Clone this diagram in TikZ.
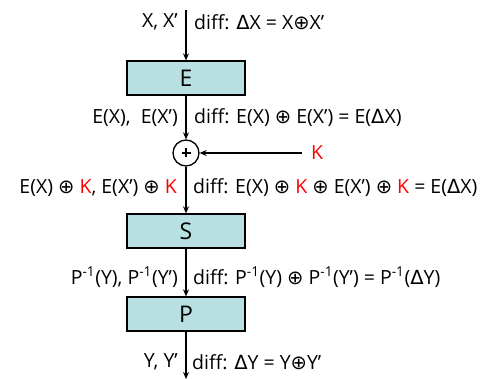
\documentclass[tikz,border=0pt]{standalone}
\usepackage{fontspec}
\setmainfont{Open Sans}
\newfontfamily\symf{DejaVu Sans}
\usetikzlibrary{arrows.meta}
\definecolor{boxfill}{RGB}{184,224,226}
\newcommand{\xo}{{\symf ⊕}}
\newcommand{\dl}{{\symf Δ}}
\newcommand{\rk}{\textcolor{red}{K}}
\newcommand{\pinv}{P\textsuperscript{-1}}
\begin{document}
\begin{tikzpicture}[x=1pt,y=-1pt,
  box/.style={draw=black,line width=1.3pt,fill=boxfill,minimum width=118pt,minimum height=34pt,inner sep=0pt,font=\fontsize{23}{25}\selectfont},
  flow/.style={line width=1.4pt,-{Stealth[length=7pt,width=6pt]}},
  lab/.style={font=\fontsize{19.5}{21}\selectfont,inner sep=0pt},
  xorc/.style={draw=black,line width=1.3pt,circle,minimum size=26pt,inner sep=0pt},
  plusbar/.style={line width=2.4pt}]
\useasboundingbox (0,0) rectangle (491,379);
\coordinate (top) at (186,10);
\node[box] (E) at (186,78) {E};
\node[xorc] (X) at (186,153) {};
\draw[plusbar] ([xshift=-4.5pt]X.center) -- ([xshift=4.5pt]X.center);
\draw[plusbar] ([yshift=-4.5pt]X.center) -- ([yshift=4.5pt]X.center);
\coordinate (kin) at (302,153);
\node[lab,anchor=west,text=red] (K) at (311,153) {K};
\node[box] (S) at (186,231) {S};
\node[box] (P) at (186,314) {P};
\coordinate (bot) at (186,379);
\draw[flow] (top) -- (E.north);
\draw[flow] (E.south) -- (X.north);
\draw[flow] (kin) -- (X.east);
\draw[flow] (X.south) -- (S.north);
\draw[flow] (S.south) -- (P.north);
\draw[flow] (P.south) -- (bot);
% labels
\node[lab,anchor=east] (l1) at (178,22) {X, X'};
\node[lab,anchor=west] (r1) at (194,22) {diff: \dl X = X\xo X'};
\node[lab,anchor=east] (l2) at (178,118) {E(X),\ \ E(X')};
\node[lab,anchor=west] (r2) at (194,118) {diff: E(X) \xo\ E(X') = E(\dl X)};
\node[lab,anchor=east] (l3) at (177,188) {E(X) \xo\ \rk, E(X') \xo\ \rk};
\node[lab,anchor=west] (r3) at (193,188) {diff: E(X) \xo\ \rk\ \xo\ E(X') \xo\ \rk\ = E(\dl X)};
\node[lab,anchor=east] (l4) at (178,277) {\pinv(Y), \pinv(Y')};
\node[lab,anchor=west] (r4) at (193,277) {diff: \pinv(Y) \xo\ \pinv(Y') = \pinv(\dl Y)};
\node[lab,anchor=east] (l5) at (178,362) {Y, Y'};
\node[lab,anchor=west] (r5) at (192,362) {diff: \dl Y = Y\xo Y'};
\end{tikzpicture}
\end{document}
